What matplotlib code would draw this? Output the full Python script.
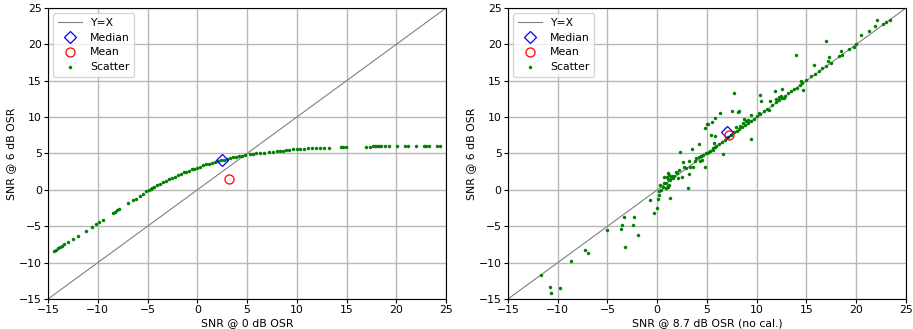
import matplotlib
matplotlib.use("Agg")
import matplotlib.pyplot as plt

# Left panel data: SNR @ 0 dB OSR vs SNR @ 6 dB OSR
left_x = [-14.4, -14.2, -14.0, -13.8, -13.6, -13.4, -13.0, -12.5, -12.0, -11.2,
          -10.6, -10.2, -9.9, -9.5, -8.5, -8.3, -8.1, -7.9, -7.0, -6.5,
          -6.2, -5.8, -5.5, -5.2, -4.9, -4.7, -4.5, -4.3, -4.0, -3.7,
          -3.4, -3.1, -2.8, -2.5, -2.2, -1.9, -1.6, -1.3, -1.1, -0.8,
          -0.5, -0.3, 0.0, 0.3, 0.6, 0.9, 1.2, 1.5, 1.8, 2.1,
          2.4, 2.7, 3.0, 3.3, 3.6, 3.9, 4.2, 4.5, 4.8, 5.3,
          5.6, 5.9, 6.3, 6.7, 7.2, 7.6, 8.0, 8.3, 8.6, 8.9,
          9.2, 9.6, 10.0, 10.3, 10.7, 11.1, 11.5, 11.9, 12.3, 12.7,
          13.2, 14.4, 14.6, 14.9, 16.96, 17.4, 17.7, 17.9, 18.1, 18.3,
          18.5, 18.9, 19.3, 20.05, 20.9, 21.2, 22.0, 22.8, 23.0, 23.3,
          24.1, 24.4]
left_y = [-8.4, -8.2, -8.0, -7.9, -7.7, -7.5, -7.2, -6.7, -6.3, -5.6,
          -5.1, -4.7, -4.4, -4.1, -3.2, -3.0, -2.8, -2.6, -1.8, -1.4,
          -1.2, -0.8, -0.5, -0.2, 0.0, 0.15, 0.3, 0.45, 0.65, 0.85,
          1.05, 1.25, 1.45, 1.6, 1.8, 2.0, 2.2, 2.4, 2.5, 2.65,
          2.8, 2.9, 3.05, 3.2, 3.35, 3.5, 3.6, 3.75, 3.85, 3.95,
          4.05, 4.15, 4.25, 4.35, 4.45, 4.55, 4.65, 4.7, 4.8, 4.9,
          4.95, 5.0, 5.05, 5.1, 5.15, 5.25, 5.3, 5.35, 5.4, 5.45,
          5.5, 5.55, 5.6, 5.6, 5.65, 5.7, 5.72, 5.75, 5.78, 5.8,
          5.82, 5.88, 5.9, 5.9, 5.95, 5.95, 5.97, 5.97, 5.97, 5.98,
          5.98, 6.0, 6.0, 6.0, 6.0, 6.02, 6.02, 6.02, 6.02, 6.02,
          6.02, 6.02]
left_median = (2.52, 4.13)
left_mean = (3.19, 1.56)

# Right panel data: SNR @ 8.7 dB OSR (no cal.) vs SNR @ 6 dB OSR
right_x = [-11.65, -10.82, -10.65, -9.74, -8.64, -7.30, -6.93, -5.06, -3.65, -3.55,
           -3.39, -3.22, -2.41, -2.31, -1.91, -0.77, -0.34, 0.0, 0.03, 0.13,
           0.23, 0.16, 0.4, 0.56, 0.73, 0.9, 1.07, 1.23, 1.4, 0.9,
           1.07, 1.23, 1.30, 1.57, 1.9, 2.07, 2.31, 2.51, 2.57, 2.64,
           2.91, 3.08, 3.18, 3.24, 3.31, 3.51, 3.58, 3.91, 4.18, 4.25,
           4.51, 4.41, 4.78, 4.85, 4.98, 5.12, 5.42, 5.52, 5.72, 5.85,
           5.85, 6.26, 6.59, 7.53, 7.76, 8.1, 8.26, 8.77, 9.44, 9.44,
           10.27, 10.44, 10.37, 11.28, 11.38, 11.88, 12.55, 12.45, 13.95, 14.46,
           14.62, 15.79, 16.97, 17.13, 17.30, 18.31, 18.47, 20.48, 21.32, 21.92,
           22.09, 22.99, 23.39,
           5.0, 5.3, 5.6, 5.9, 6.2, 6.5, 6.8, 7.1, 7.4, 7.7,
           8.0, 8.2, 8.5, 8.8, 9.1, 9.4, 9.7, 10.0, 10.3, 10.7,
           11.0, 11.5, 11.9, 12.2, 12.5, 12.8, 13.1, 13.4, 13.7, 14.0,
           14.3, 14.6, 15.0, 15.5, 15.9, 16.3, 16.6, 17.0, 17.5, 18.6,
           19.3, 19.8, 20.0, 22.7, 8.6, 8.9, 9.1, 8.3, 7.9, 11.9,
           12.2, 12.7, 3.8, 4.2, 4.4, 4.6, 4.9, 5.2, 5.6, 5.8,
           0.7, 1.0, 1.1, 1.3, 1.5, 0.9, 1.1, 2.2, 1.7, 2.0]
right_y = [-11.74, -13.35, -14.22, -13.53, -9.77, -8.30, -8.62, -5.50, -5.32, -4.77,
           -3.67, -7.80, -4.86, -3.67, -6.15, -1.42, -3.21, -2.52, -1.28, -0.69,
           0.69, -0.18, 0.0, 0.46, 1.83, 0.23, 2.29, 2.02, 1.83, 0.92,
           0.46, 0.69, -1.15, 1.6, 2.52, 1.6, 5.18, 1.83, 3.81, 3.21,
           2.98, 0.23, 3.99, 2.2, 3.21, 5.64, 3.21, 4.36, 6.28, 3.9,
           4.13, 4.59, 8.44, 3.12, 9.04, 9.08, 7.48, 9.27, 6.42, 7.34,
           9.91, 10.55, 4.91, 10.78, 13.35, 10.69, 10.87, 9.72, 6.93, 10.32,
           10.55, 12.25, 13.07, 11.01, 12.16, 13.53, 13.9, 12.84, 18.58, 14.91,
           13.67, 17.16, 20.5, 17.66, 18.21, 18.44, 19.13, 21.24, 21.83, 22.48,
           23.3, 23.03, 23.39,
           5.1, 5.4, 5.8, 6.0, 6.3, 6.6, 6.9, 7.2, 7.5, 7.9,
           8.1, 8.4, 8.6, 8.9, 9.2, 9.5, 9.8, 10.1, 10.4, 10.8,
           11.1, 11.6, 12.1, 12.3, 12.6, 12.9, 13.3, 13.6, 13.8, 14.0,
           14.4, 14.7, 15.1, 15.6, 15.9, 16.3, 16.7, 17.0, 17.5, 18.6,
           19.3, 19.7, 20.1, 22.8, 9.2, 9.4, 9.6, 8.8, 8.6, 12.5,
           12.8, 12.6, 4.0, 4.5, 4.6, 4.8, 5.0, 5.2, 5.5, 5.9,
           0.9, 1.8, 1.5, 1.3, 1.9, 0.3, 0.5, 2.7, 1.9, 2.3]
right_median = (6.99, 7.89)
right_mean = (7.26, 7.57)

axis_lim = [-15, 25]
ticks = [-15, -10, -5, 0, 5, 10, 15, 20, 25]
xlabels = ["SNR @ 0 dB OSR", "SNR @ 8.7 dB OSR (no cal.)"]
ylabel = "SNR @ 6 dB OSR"

plt.rcParams['font.family'] = ['DejaVu Sans']
plt.rcParams['font.size'] = 7.8

fig = plt.figure(figsize=(9.13, 3.29), dpi=100)
ax1 = fig.add_axes([0.0526, 0.0912, 0.4359, 0.8845])
ax2 = fig.add_axes([0.5564, 0.0912, 0.4359, 0.8845])

panels = [(ax1, left_x, left_y, left_median, left_mean, xlabels[0]),
          (ax2, right_x, right_y, right_median, right_mean, xlabels[1])]

for ax, xs, ys, med, mean, xl in panels:
    ax.plot(axis_lim, axis_lim, color='gray', lw=0.8, label='Y=X', zorder=2)
    ax.plot([med[0]], [med[1]], linestyle='none', marker='D', ms=6,
            mfc='none', mec='blue', mew=0.9, label='Median', zorder=4)
    ax.plot([mean[0]], [mean[1]], linestyle='none', marker='o', ms=6.5,
            mfc='none', mec='red', mew=0.9, label='Mean', zorder=4)
    ax.plot(xs, ys, linestyle='none', marker='o', ms=2.2, color='green',
            mec='green', mew=0.3, label='Scatter', zorder=3)
    ax.set_xlim(axis_lim)
    ax.set_ylim(axis_lim)
    ax.set_xticks(ticks)
    ax.set_yticks(ticks)
    ax.grid(True, color='#b8b8b8', lw=1.0)
    ax.set_axisbelow(True)
    ax.set_xlabel(xl, labelpad=2)
    ax.set_ylabel(ylabel, labelpad=2)
    ax.tick_params(length=3, pad=1.5)
    ax.legend(loc='upper left', fontsize=7.8, framealpha=0.8, borderpad=0.4,
              handlelength=2.2, labelspacing=0.45)

fig.savefig('out.png', dpi=100)
